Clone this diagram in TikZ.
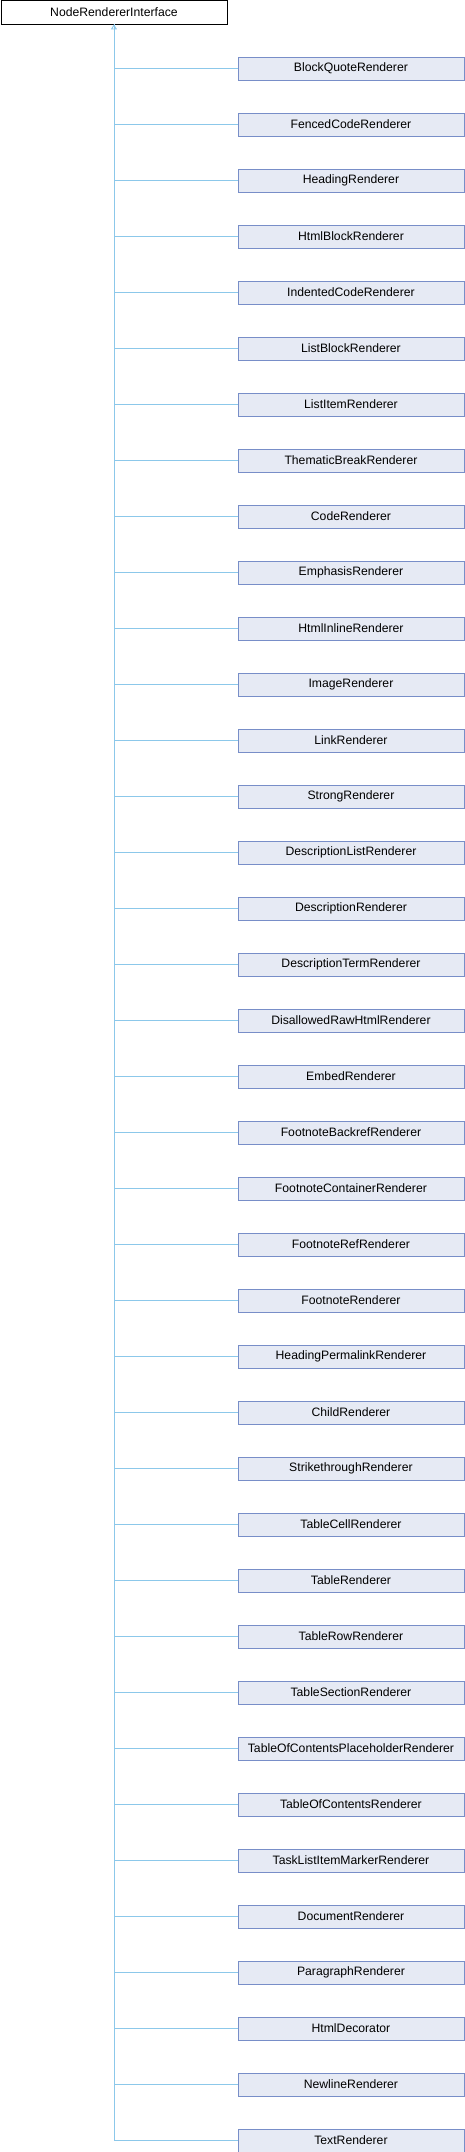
\documentclass[tikz,border=0pt]{standalone}
\usepackage{fontspec}
\setmainfont{Liberation Sans}
\usetikzlibrary{arrows.meta}
\definecolor{edgeblue}{RGB}{140,200,234}
\definecolor{boxfill}{RGB}{230,234,244}
\definecolor{boxdraw}{RGB}{120,142,200}
\tikzset{
  basebox/.style={draw=black, fill=white, line width=0.9pt, minimum width=226pt, minimum height=23pt, inner sep=0pt, font=\fontsize{12.2}{14}\selectfont, anchor=north west},
  childbox/.style={draw=boxdraw, fill=boxfill, line width=0.9pt, minimum width=226pt, minimum height=23pt, inner sep=0pt, font=\fontsize{12.2}{14}\selectfont, anchor=north west},
  edge/.style={draw=edgeblue, line width=0.9pt},
  inh/.style={edge, -{Triangle[open, length=5pt, width=6pt]}}
}
\begin{document}
\begin{tikzpicture}[x=1pt,y=-1pt]
\useasboundingbox (0,0) rectangle (464,2152);
\node[basebox] (top) at (0.5,0.5) {NodeRendererInterface};
\foreach \name [count=\i] in {BlockQuoteRenderer,FencedCodeRenderer,HeadingRenderer,HtmlBlockRenderer,IndentedCodeRenderer,ListBlockRenderer,ListItemRenderer,ThematicBreakRenderer,CodeRenderer,EmphasisRenderer,HtmlInlineRenderer,ImageRenderer,LinkRenderer,StrongRenderer,DescriptionListRenderer,DescriptionRenderer,DescriptionTermRenderer,DisallowedRawHtmlRenderer,EmbedRenderer,FootnoteBackrefRenderer,FootnoteContainerRenderer,FootnoteRefRenderer,FootnoteRenderer,HeadingPermalinkRenderer,ChildRenderer,StrikethroughRenderer,TableCellRenderer,TableRenderer,TableRowRenderer,TableSectionRenderer,TableOfContentsPlaceholderRenderer,TableOfContentsRenderer,TaskListItemMarkerRenderer,DocumentRenderer,ParagraphRenderer,HtmlDecorator,NewlineRenderer,TextRenderer} {
  \node[childbox] (c\i) at (237.5, {56.5+56*(\i-1)}) {\name};
}
\foreach \i in {1,...,37} {
  \draw[edge] (c\i.west) -| (top.south);
}
\draw[inh] (c38.west) -| (top.south);
\end{tikzpicture}
\end{document}
